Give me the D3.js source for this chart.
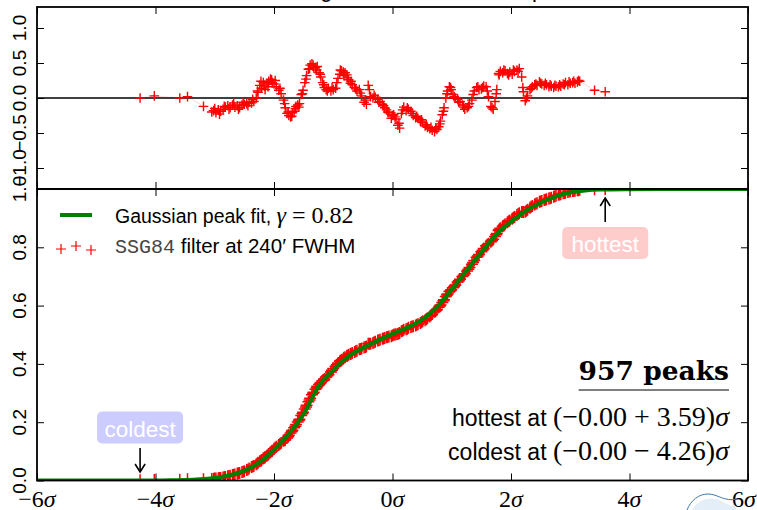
<!DOCTYPE html>
<html><head><meta charset="utf-8">
<script src="https://cdn.jsdelivr.net/npm/d3@7/dist/d3.min.js"></script>
<style>body{margin:0;background:#fff}svg{display:block}</style>
</head><body>
<svg id="chart" width="757" height="510"></svg>
<script>
// ---------------- data ----------------
const titleText = "Cumulative histogram of all filtered map maxima";
const xTicks = [-6, -4, -2, 0, 2, 4, 6];
const xTickLabels = ["−6", "−4", "−2", "0", "2", "4", "6"];
const residTicks = [-1.0, -0.5, 0.0, 0.5, 1.0];
const residTickLabels = ["−1.0", "−0.5", "0.0", "0.5", "1.0"];
const cdfTicks = [0, 0.2, 0.4, 0.6, 0.8, 1.0];
const cdfTickLabels = ["0.0", "0.2", "0.4", "0.6", "0.8", "1.0"];

const peakCount = 957;
const fitGamma = "0.82";
const filterName = "SSG84";
const filterFwhm = "240′";
const hottestSigma = 3.59;
const coldestSigma = -4.26;
const meanText = "−0.00";

// Gaussian peak fit curve [sigma, cumulative fraction]
const fitCurve = [[-6,0],[-4.5,0],[-4,0.0002],[-3.75,0.0006],[-3.5,0.0015],[-3.25,0.004],[-3.0,0.009],
[-2.75,0.018],[-2.5,0.034],[-2.25,0.062],[-2.0,0.105],[-1.75,0.16],[-1.5,0.228],[-1.25,0.322],
[-1.0,0.378],[-0.75,0.425],[-0.5,0.455],[-0.25,0.48],[0,0.503],[0.25,0.525],[0.5,0.552],[0.75,0.595],
[1.0,0.656],[1.25,0.72],[1.5,0.783],[1.75,0.843],[2.0,0.888],[2.25,0.925],[2.5,0.953],[2.75,0.974],
[3.0,0.988],[3.25,0.995],[3.5,0.998],[4,0.9995],[4.5,1],[6,1]];

// filtered peaks: [sigma, empirical cumulative fraction, residual]
const peaksA = [
[-4.26,0.001,0.00],[-4.02,0.002,0.03],[-3.59,0.003,0.00],[-3.46,0.004,0.02],[-3.19,0.004,-0.12],
[-3.05,0.005,-0.20],[-3.02,0.006,-0.18],[-2.98,0.007,-0.21],[-2.94,0.008,-0.17],[-2.90,0.009,-0.19],
[-2.86,0.010,-0.16],[-2.82,0.012,-0.13],[-2.78,0.015,-0.11],[-2.74,0.016,-0.14],[-2.70,0.019,-0.10],
[-2.66,0.021,-0.13],[-2.62,0.024,-0.11],[-2.58,0.026,-0.14],[-2.54,0.029,-0.10],[-2.50,0.032,-0.09],
[-2.46,0.036,-0.08],[-2.42,0.041,-0.06],[-2.38,0.046,-0.07],[-2.34,0.050,-0.05],[-2.30,0.056,0.00],
[-2.27,0.061,0.08],[-2.24,0.066,0.18],[-2.21,0.070,0.14],[-2.18,0.076,0.22],[-2.15,0.080,0.12],
[-2.12,0.085,0.20],[-2.09,0.091,0.24],[-2.06,0.097,0.27],[-2.03,0.102,0.22],[-2.00,0.109,0.20],
[-1.96,0.116,0.16],[-1.92,0.122,0.11],[-1.88,0.129,0.06],[-1.84,0.136,-0.03],[-1.81,0.140,-0.14],
[-1.78,0.146,-0.22],[-1.75,0.155,-0.25],[-1.72,0.163,-0.27],[-1.69,0.172,-0.21],[-1.66,0.181,-0.19],
[-1.63,0.192,-0.12],[-1.60,0.201,-0.10],[-1.57,0.210,-0.08],[-1.54,0.223,0.05],[-1.51,0.234,0.11],
[-1.48,0.245,0.22],[-1.45,0.258,0.32],[-1.42,0.270,0.41],[-1.39,0.282,0.47],[-1.36,0.294,0.49],
[-1.33,0.303,0.43],[-1.30,0.313,0.44],[-1.27,0.323,0.45],[-1.24,0.329,0.36],[-1.21,0.336,0.30],
[-1.18,0.342,0.22],[-1.15,0.348,0.15],[-1.12,0.355,0.12],[-1.08,0.363,0.14],[-1.04,0.372,0.10],
[-1.00,0.384,0.12],[-0.96,0.392,0.14],[-0.92,0.402,0.28],[-0.89,0.408,0.34],[-0.86,0.414,0.39],
[-0.83,0.418,0.37],[-0.80,0.423,0.36],[-0.77,0.427,0.33],[-0.74,0.431,0.26],[-0.71,0.434,0.21],
[-0.68,0.437,0.19],[-0.64,0.441,0.15],[-0.60,0.445,0.10],[-0.56,0.450,0.12],[-0.52,0.453,0.03],
[-0.48,0.456,-0.06],[-0.44,0.460,-0.09],[-0.41,0.469,0.18],[-0.37,0.469,0.02],[-0.33,0.472,0.00],
[-0.29,0.476,0.01],[-0.25,0.480,-0.02],[-0.21,0.483,-0.05],[-0.17,0.486,-0.09],[-0.13,0.489,-0.14],
[-0.10,0.491,-0.17],[-0.06,0.494,-0.21],[-0.02,0.495,-0.29],[0.02,0.500,-0.24],[0.06,0.502,-0.30],
[0.09,0.503,-0.39],[0.12,0.506,-0.43],[0.15,0.512,-0.22],[0.19,0.517,-0.13],[0.23,0.519,-0.18],
[0.27,0.524,-0.16],[0.31,0.527,-0.19],[0.35,0.529,-0.25],[0.39,0.532,-0.28],[0.43,0.536,-0.29],
[0.47,0.540,-0.33],[0.51,0.546,-0.35],[0.55,0.550,-0.40],[0.59,0.557,-0.42],[0.63,0.563,-0.44],
[0.67,0.571,-0.46],[0.71,0.579,-0.48],[0.75,0.586,-0.45],[0.78,0.594,-0.41],[0.81,0.602,-0.33],
[0.84,0.611,-0.24],[0.87,0.620,-0.14],[0.90,0.631,0.00],[0.93,0.640,0.10],[0.96,0.648,0.16],
[0.99,0.654,0.12],[1.02,0.661,0.05],[1.06,0.670,0.00],[1.10,0.681,-0.02],[1.14,0.690,-0.05],
[1.18,0.700,-0.10],[1.22,0.709,-0.16],[1.26,0.719,-0.14],[1.30,0.731,-0.08],[1.34,0.742,-0.03],
[1.38,0.755,0.10],[1.42,0.766,0.15],[1.46,0.775,0.12],[1.50,0.785,0.13],[1.54,0.796,0.17],
[1.58,0.805,0.16],[1.62,0.812,0.02],[1.66,0.819,-0.12],[1.70,0.828,-0.16],[1.73,0.837,-0.05],
[1.76,0.847,0.12],[1.79,0.858,0.35],[1.82,0.865,0.38],[1.86,0.872,0.36],[1.90,0.879,0.39],
[1.94,0.886,0.35],[1.98,0.892,0.37],[2.02,0.898,0.34],[2.06,0.904,0.38],[2.10,0.911,0.40],
[2.14,0.917,0.42],[2.18,0.921,0.30],[2.21,0.921,0.09],[2.24,0.922,-0.04],[2.28,0.929,0.03],
[2.32,0.936,0.12],[2.36,0.942,0.16],[2.40,0.947,0.19],[2.44,0.951,0.18],[2.48,0.956,0.23],
[2.52,0.959,0.20],[2.56,0.962,0.18],[2.60,0.965,0.19],[2.64,0.967,0.16],[2.68,0.970,0.17],
[2.72,0.973,0.15],[2.76,0.977,0.17],[2.80,0.980,0.16],[2.84,0.982,0.17],[2.88,0.985,0.20],
[2.92,0.987,0.22],[2.96,0.990,0.19],[3.00,0.992,0.21],[3.04,0.993,0.22],[3.08,0.994,0.21],
[3.12,0.996,0.23],[3.16,0.997,0.24],[3.41,0.999,0.11],[3.59,1.000,0.09]
];
// further peaks
const peaksB = [
[-3.00,0.0065,-0.15],[-2.92,0.0085,-0.23],[-2.84,0.011,-0.12],[-2.76,0.0155,-0.16],[-2.68,0.020,-0.07],
[-2.60,0.025,-0.16],[-2.52,0.030,-0.06],[-2.44,0.038,-0.11],[-2.36,0.048,-0.02],[-2.28,0.058,0.10],
[-2.22,0.068,0.24],[-2.16,0.078,0.17],[-2.10,0.088,0.16],[-2.04,0.100,0.26],[-1.98,0.112,0.25],
[-1.90,0.125,0.14],[-1.82,0.138,-0.08],[-1.76,0.150,-0.20],[-1.70,0.168,-0.26],[-1.64,0.186,-0.15],
[-1.58,0.206,-0.13],[-1.52,0.229,0.06],[-1.46,0.252,0.27],[-1.40,0.276,0.42],[-1.34,0.299,0.47],
[-1.28,0.318,0.40],[-1.22,0.333,0.34],[-1.16,0.345,0.19],[-1.10,0.359,0.10],[-1.02,0.378,0.15],
[-0.94,0.397,0.22],[-0.88,0.411,0.40],[-0.82,0.421,0.32],[-0.76,0.429,0.29],[-0.70,0.435,0.24],
[-0.62,0.443,0.13],[-0.54,0.451,0.07],[-0.46,0.458,-0.03],[-0.39,0.469,0.12],[-0.31,0.474,0.04],
[-0.23,0.481,-0.06],[-0.15,0.487,-0.11],[-0.08,0.492,-0.20],[0.00,0.497,-0.25],[0.04,0.501,-0.27],
[0.11,0.505,-0.36],[0.17,0.514,-0.17],[0.25,0.521,-0.14],[0.33,0.528,-0.22],[0.41,0.534,-0.26],
[0.49,0.543,-0.31],[0.57,0.553,-0.38],[0.65,0.567,-0.42],[0.73,0.582,-0.43],[0.80,0.599,-0.37],
[0.86,0.617,-0.19],[0.92,0.636,0.06],[0.98,0.651,0.15],[1.04,0.665,0.02],[1.12,0.685,-0.06],
[1.20,0.704,-0.13],[1.28,0.725,-0.12],[1.36,0.748,0.05],[1.44,0.770,0.16],[1.52,0.790,0.15],
[1.60,0.808,0.10],[1.68,0.823,-0.14],[1.75,0.843,0.06],[1.80,0.861,0.33],[1.88,0.875,0.40],
[1.96,0.889,0.33],[2.04,0.901,0.40],[2.12,0.914,0.38],[2.20,0.921,0.15],[2.26,0.925,0.00],
[2.34,0.939,0.14],[2.42,0.949,0.20],[2.50,0.957,0.21],[2.58,0.963,0.21],[2.66,0.968,0.19],
[2.74,0.975,0.18],[2.82,0.981,0.19],[2.90,0.986,0.19],[2.98,0.991,0.23],[3.06,0.993,0.24],
[3.14,0.996,0.25]
];
const peaks = peaksA.concat(peaksB).sort((a, b) => a[0] - b[0]);

// ---------------- drawing ----------------
const svg = d3.select("#chart");
const L = 37, R = 748, T = 7, MID = 189, B = 480.5;
const x = d3.scaleLinear().domain([-6, 6]).range([L, R]);
const yRes = d3.scaleLinear().domain([-1.3, 1.3]).range([MID, T]);
const yCdf = d3.scaleLinear().domain([0, 1]).range([B, MID]);

const SANS = "'Liberation Sans', Arial, sans-serif";
const SERIF = "'Liberation Serif', 'Times New Roman', serif";

const defs = svg.append("defs");
defs.append("clipPath").attr("id", "clipTop").append("rect")
  .attr("x", L).attr("y", T).attr("width", R - L).attr("height", MID - T);
defs.append("clipPath").attr("id", "clipBot").append("rect")
  .attr("x", L).attr("y", MID).attr("width", R - L).attr("height", B - MID);

// title (mostly cut off by the top of the page, as in the original)
svg.append("text").attr("x", (L + R) / 2).attr("y", -3).attr("text-anchor", "middle")
  .attr("font-family", SANS).attr("font-size", 22).text(titleText);

function crossPath(cx, cy, s) {
  return `M${cx - s},${cy}h${2 * s}M${cx},${cy - s}v${2 * s}`;
}

// ---- top panel: residuals ----
const topG = svg.append("g").attr("clip-path", "url(#clipTop)");
topG.append("path")
  .attr("d", d3.line().x(d => x(d[0])).y(d => yRes(d[2]))(peaks))
  .attr("fill", "none").attr("stroke", "#ff0000").attr("stroke-opacity", 0.15).attr("stroke-width", 1);
topG.append("line").attr("x1", x(-6)).attr("x2", x(6)).attr("y1", yRes(0)).attr("y2", yRes(0))
  .attr("stroke", "#000").attr("stroke-width", 1.3);
topG.append("g").selectAll("path").data(peaks).join("path")
  .attr("d", d => crossPath(x(d[0]), yRes(d[2]), 4.8))
  .attr("stroke", "#ff0000").attr("stroke-width", 1.4).attr("fill", "none");

// ---- bottom panel: cumulative ----
const botG = svg.append("g").attr("clip-path", "url(#clipBot)");
botG.append("path")
  .attr("d", d3.line().x(d => x(d[0])).y(d => yCdf(d[1]))(peaks))
  .attr("fill", "none").attr("stroke", "#ff0000").attr("stroke-opacity", 0.15).attr("stroke-width", 1);
botG.append("g").selectAll("path").data(peaks).join("path")
  .attr("d", d => crossPath(x(d[0]), yCdf(d[1]), 6))
  .attr("stroke", "#ff0000").attr("stroke-width", 1.5).attr("fill", "none");
botG.append("path")
  .attr("d", d3.line().x(d => x(d[0])).y(d => yCdf(d[1])).curve(d3.curveMonotoneX)(fitCurve))
  .attr("fill", "none").attr("stroke", "#008000").attr("stroke-width", 4);

// ---- axes (inward ticks, all four sides) ----
function ticks(axis, tx, ty) {
  const g = svg.append("g").attr("transform", `translate(${tx},${ty})`)
    .call(axis.tickSize(-7).tickFormat(() => ""));
  g.select(".domain").remove();
  g.selectAll(".tick line").attr("stroke", "#000").attr("stroke-width", 1);
}
ticks(d3.axisTop(x).tickValues(xTicks), 0, T);
ticks(d3.axisBottom(x).tickValues(xTicks), 0, MID);
ticks(d3.axisLeft(yRes).tickValues(residTicks), L, 0);
ticks(d3.axisRight(yRes).tickValues(residTicks), R, 0);
ticks(d3.axisTop(x).tickValues(xTicks), 0, MID);
ticks(d3.axisBottom(x).tickValues(xTicks), 0, B);
ticks(d3.axisLeft(yCdf).tickValues(cdfTicks), L, 0);
ticks(d3.axisRight(yCdf).tickValues(cdfTicks), R, 0);

// spines
svg.append("rect").attr("x", L).attr("y", T).attr("width", R - L).attr("height", MID - T)
  .attr("fill", "none").attr("stroke", "#000").attr("stroke-width", 1.8);
svg.append("rect").attr("x", L).attr("y", MID).attr("width", R - L).attr("height", B - MID)
  .attr("fill", "none").attr("stroke", "#000").attr("stroke-width", 1.8);

// y tick labels (rotated)
function yLabels(vals, labels, scale) {
  svg.append("g").selectAll("text").data(vals).join("text")
    .attr("transform", d => `translate(25.5,${scale(d)}) rotate(-90)`)
    .attr("text-anchor", "middle").attr("font-family", SANS).attr("font-size", 19)
    .text((d, i) => labels[i]);
}
yLabels(residTicks, residTickLabels, yRes);
yLabels(cdfTicks, cdfTickLabels, yCdf);

// x tick labels
const xl = svg.append("g").selectAll("text").data(xTicks).join("text")
  .attr("x", d => Math.min(x(d), 744)).attr("y", 506.5).attr("text-anchor", "middle")
  .attr("font-family", SERIF).attr("font-size", 24);
xl.append("tspan").text((d, i) => xTickLabels[i]);
xl.append("tspan").attr("font-style", "italic").text("σ");

// legend
svg.append("line").attr("x1", 60).attr("x2", 92).attr("y1", 215).attr("y2", 215)
  .attr("stroke", "#008000").attr("stroke-width", 4);
const lg1 = svg.append("text").attr("x", 115).attr("y", 223).attr("font-family", SANS).attr("font-size", 19.5);
lg1.append("tspan").text("Gaussian peak fit, ");
lg1.append("tspan").attr("font-family", SERIF).attr("font-size", 24).attr("font-style", "italic").text("γ");
lg1.append("tspan").attr("font-family", SERIF).attr("font-size", 24).text(" = " + fitGamma);
svg.append("g").selectAll("path").data([[61, 249], [76, 246], [91, 250]]).join("path")
  .attr("d", d => crossPath(d[0], d[1], 5)).attr("stroke", "#ff0000").attr("stroke-width", 1.2);
const lg2 = svg.append("text").attr("x", 115).attr("y", 253).attr("font-family", SANS).attr("font-size", 20.5);
lg2.append("tspan").attr("font-family", "'Liberation Mono', monospace").attr("font-size", 20)
  .attr("fill", "#444").text(filterName);
lg2.append("tspan").text(" filter at " + filterFwhm + " FWHM");

// hottest / coldest annotations
function arrow(xv, y0, y1) {
  const cx = x(xv), dir = Math.sign(y1 - y0);
  svg.append("line").attr("x1", cx).attr("x2", cx).attr("y1", y0).attr("y2", y1)
    .attr("stroke", "#000").attr("stroke-width", 1.6);
  svg.append("path").attr("d", `M${cx - 5},${y1 - dir * 8}L${cx},${y1}L${cx + 5},${y1 - dir * 8}`)
    .attr("fill", "none").attr("stroke", "#000").attr("stroke-width", 1.6);
}
function labelBox(xv, yTop, label, fill) {
  const cx = x(xv);
  svg.append("rect").attr("x", cx - 43).attr("y", yTop).attr("width", 86).attr("height", 32)
    .attr("rx", 5).attr("fill", fill);
  svg.append("text").attr("x", cx).attr("y", yTop + 25).attr("text-anchor", "middle")
    .attr("font-family", SANS).attr("font-size", 22.5).attr("fill", "#fff").text(label);
}
arrow(hottestSigma, 222, 198);
labelBox(hottestSigma, 227, "hottest", "#ffcccc");
arrow(coldestSigma, 448, 472);
labelBox(coldestSigma, 411.5, "coldest", "#ccccff");

// summary block
const head = svg.append("text").attr("x", 729).attr("y", 380).attr("text-anchor", "end")
  .attr("font-family", "'DejaVu Serif', serif").attr("font-weight", "bold").attr("font-size", 26.5)
  .text(peakCount + " peaks");
const hw = head.node().getComputedTextLength();
svg.append("line").attr("x1", 729 - hw).attr("x2", 729).attr("y1", 390).attr("y2", 390)
  .attr("stroke", "#000").attr("stroke-width", 1.2);
function statLine(y, word, sign, val) {
  const t = svg.append("text").attr("x", 729).attr("y", y).attr("text-anchor", "end")
    .attr("font-family", SANS).attr("font-size", 23);
  t.append("tspan").text(word + " at ");
  t.append("tspan").attr("font-family", SERIF).attr("font-size", 28)
    .text("(" + meanText + " " + sign + " " + val + ")");
  t.append("tspan").attr("font-family", SERIF).attr("font-size", 28).attr("font-style", "italic").text("σ");
}
statLine(426, "hottest", "+", hottestSigma.toFixed(2));
statLine(460, "coldest", "−", Math.abs(coldestSigma).toFixed(2));

// partial logo at bottom right
svg.append("path").attr("d", "M692,510 C698,500 708,497 716,499 C724,501 728,507 736,506 L736,510 Z")
  .attr("fill", "#e3eef9");
svg.append("path").attr("d", "M687,510 C691,500 699,494 708,494 C718,494 724,502 737,499")
  .attr("fill", "none").attr("stroke", "#3b78b8").attr("stroke-width", 1);
</script>
</body></html>
